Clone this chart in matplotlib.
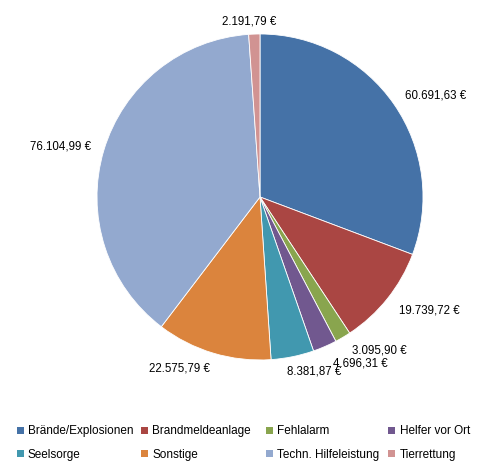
import numpy as np
import matplotlib.pyplot as plt
from matplotlib.patches import Patch

plt.rcParams['font.family'] = ['Liberation Sans', 'DejaVu Sans']

# einsatzarten und kosten
categories = ["Brände/Explosionen", "Brandmeldeanlage", "Fehlalarm", "Helfer vor Ort",
              "Seelsorge", "Sonstige", "Techn. Hilfeleistung", "Tierrettung"]
costs = [60691.63, 19739.72, 3095.90, 4696.31, 8381.87, 22575.79, 76104.99, 2191.79]
colors = ["#4572A7", "#AA4643", "#89A54E", "#71588F",
          "#4198AF", "#DB843D", "#93A9CF", "#D19392"]

# label placement tweaks (angle shift in deg, radial distance)
lab_shift = [-4.7, 4.8, 7.3, 7.6, 5.6, -8.5, 2.5, 1.6]
lab_dist = [1.24, 1.247, 1.19, 1.195, 1.12, 1.16, 1.26, 1.08]


def fmt_euro(v):
    s = "{:,.2f}".format(v)
    s = s.replace(",", "X").replace(".", ",").replace("X", ".")
    return s + " €"


fig = plt.figure(figsize=(4.99, 4.68), dpi=100)
ax = fig.add_axes([0.1944, 0.2308, 0.6533, 0.6966])

wedges, _ = ax.pie(costs, colors=colors, startangle=90, counterclock=False,
                   radius=1.0, wedgeprops=dict(edgecolor="white", linewidth=0.6))
for w in wedges:
    w.set_clip_on(False)
ax.set_xlim(-1, 1)
ax.set_ylim(-1, 1)
ax.set_aspect("equal")

for w, v, sh, d in zip(wedges, costs, lab_shift, lab_dist):
    ang = np.deg2rad((w.theta1 + w.theta2) / 2 + sh)
    ax.text(d * np.cos(ang), d * np.sin(ang), fmt_euro(v), ha="center", va="center",
            fontsize=8.3, color="black", clip_on=False)

# legend: 4 fixed columns, 2 rows (row-wise order)
col_x = [0.012, 0.261, 0.511, 0.757]
for j, x0 in enumerate(col_x):
    idx = [j, j + 4]
    leg = fig.legend([Patch(facecolor=colors[i], edgecolor="none") for i in idx],
                     [categories[i] for i in idx],
                     loc="lower left", bbox_to_anchor=(x0, -0.007),
                     frameon=False, fontsize=8.5, handlelength=0.6, handleheight=0.6,
                     handletextpad=0.35, labelspacing=0.95)

fig.savefig("out.png", dpi=100)
